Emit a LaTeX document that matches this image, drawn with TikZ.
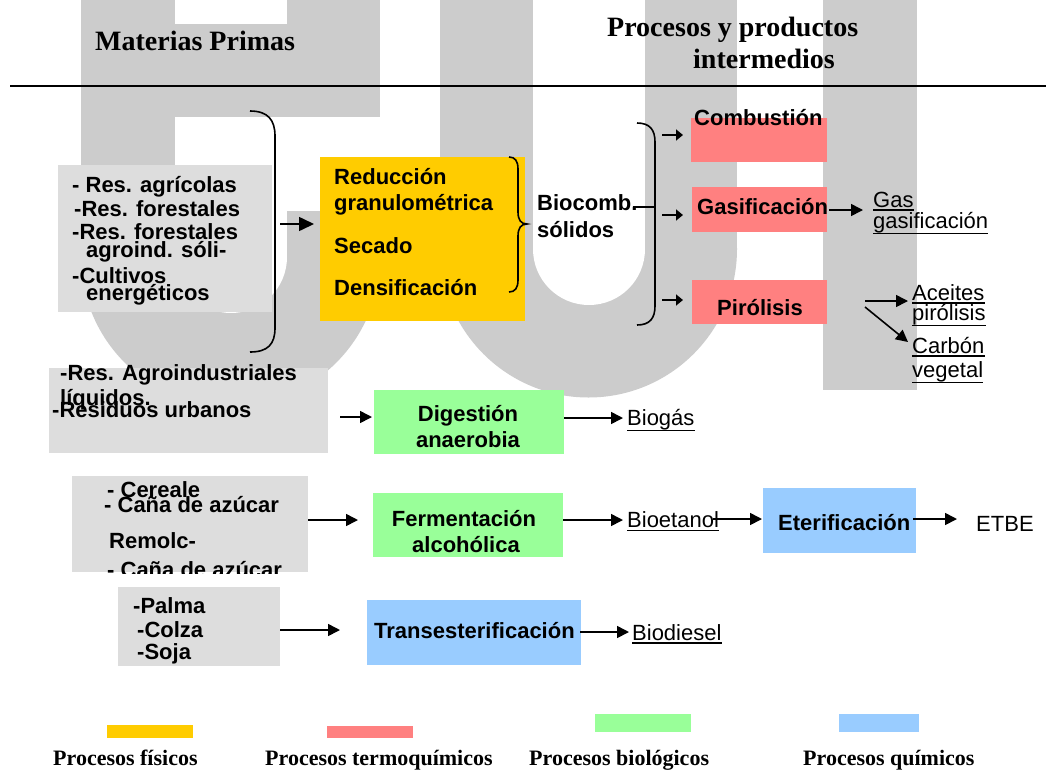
\documentclass[tikz,border=0pt]{standalone}
\usepackage{fontspec}
\setmainfont{Liberation Serif}
\newfontfamily\arialf{Liberation Sans}
\usetikzlibrary{arrows.meta}
\definecolor{wm}{HTML}{CCCCCC}
\definecolor{boxgray}{HTML}{DDDDDD}
\definecolor{fisc}{HTML}{FFCC00}
\definecolor{termc}{HTML}{FF8080}
\definecolor{bioc}{HTML}{99FF99}
\definecolor{quic}{HTML}{99CCFF}
\begin{document}
\begin{tikzpicture}[x=1pt,y=-1pt,
  bx/.style={inner sep=0pt,outer sep=0pt,anchor=north west,draw=none},
  tb/.style={inner sep=0pt,anchor=base west,font=\arialf\bfseries\fontsize{22}{24}\selectfont},
  tbc/.style={inner sep=0pt,anchor=base,font=\arialf\bfseries\fontsize{22}{24}\selectfont},
  tr/.style={inner sep=0pt,anchor=base west,font=\arialf\fontsize{22}{24}\selectfont},
  hd/.style={inner sep=0pt,anchor=base west,font=\bfseries\fontsize{28}{30}\selectfont},
  lg/.style={inner sep=0pt,anchor=base west,font=\bfseries\fontsize{22}{24}\selectfont},
  arr/.style={line width=1.6pt,-{Triangle[length=12pt,width=12pt]}},
  barr/.style={line width=1.6pt,-{Triangle[length=15pt,width=14pt]}},
  sarr/.style={line width=1.6pt,-{Triangle[length=7pt,width=11pt]}},
  brk/.style={line width=1.6pt},
  ul/.style={line width=1.3pt}]
\useasboundingbox (0,0) rectangle (1046,769);
\fill[white] (0,0) rectangle (1046,769);
% watermark
\fill[wm] (81,0) rectangle (380,257);
\fill[wm] (230.5,257) circle[radius=149.5pt];
\fill[white] (175,0) rectangle (287,24);
\fill[white] (175,117) rectangle (380,211);
\fill[white] (175,211) rectangle (287,257);
\fill[white] (231,257) circle[radius=56pt];
\fill[wm] (440,0) rectangle (737,249);
\fill[wm] (588.5,249) circle[radius=148.5pt];
\fill[white] (533,0) rectangle (645,249);
\fill[white] (589,249) circle[radius=56pt];
\fill[wm] (823,0) rectangle (917,390);
% header
\node[hd] (mp) at (95,50) {Materias Primas};
\node[hd] (pp1) at (607,36) {Procesos y productos};
\node[hd] (pp2) at (693,68) {intermedios};
\coordinate (hl1) at (10,86);
\coordinate (hl2) at (1046,86);
\draw[line width=1.8pt] (hl1) -- (hl2);
% boxes
\node[bx,fill=boxgray,minimum width=214pt,minimum height=147pt] (g1) at (58,165) {};
\node[bx,fill=fisc,minimum width=205pt,minimum height=164pt] (yel) at (320,157) {};
\node[bx,fill=termc,minimum width=136pt,minimum height=44pt] (comb) at (691,118) {};
\node[bx,fill=termc,minimum width=135pt,minimum height=45pt] (gasi) at (692,187) {};
\node[bx,fill=termc,minimum width=135pt,minimum height=44pt] (piro) at (692,280) {};
\node[bx,fill=boxgray,minimum width=279pt,minimum height=85pt] (g2) at (49,368) {};
\node[bx,fill=bioc,minimum width=190pt,minimum height=64pt] (dig) at (374,390) {};
\node[bx,fill=boxgray,minimum width=236pt,minimum height=96pt] (g3) at (72,476) {};
\node[bx,fill=bioc,minimum width=190pt,minimum height=64pt] (fer) at (373,493) {};
\node[bx,fill=quic,minimum width=153pt,minimum height=65pt] (ete) at (763,488) {};
\node[bx,fill=boxgray,minimum width=162pt,minimum height=79pt] (g4) at (118,587) {};
\node[bx,fill=quic,minimum width=214pt,minimum height=65pt] (tra) at (367,600) {};
% box 1 texts
\node[tb] (r1) at (72,192) {- Res. agrícolas};
\node[tb] (r2) at (74,216) {-Res. forestales};
\node[tb] (r3) at (72,239) {-Res. forestales};
\node[tb] (r4) at (86,257) {agroind. sóli-};
\node[tb] (r5) at (72,283) {-Cultivos};
\node[tb] (r6) at (86,300) {energéticos};
% yellow texts
\node[tb] (y1) at (334,184) {Reducción};
\node[tb] (y2) at (334,210) {granulométrica};
\node[tb] (y3) at (334,253) {Secado};
\node[tb] (y4) at (334,295) {Densificación};
\node[tb] (bc1) at (537,210) {Biocomb.};
\node[tb] (bc2) at (537,237) {sólidos};
% pink texts
\node[tb] (tcomb) at (694,125) {Combustión};
\node[tb] (tgasi) at (697,214) {Gasificación};
\node[tb] (tpiro) at (717,315) {Pirólisis};
% products
\node[tr] (gas1) at (873,207) {Gas};
\node[tr] (gas2) at (873,228) {gasificación};
\node[tr] (ac1) at (912,300) {Aceites};
\node[tr] (ac2) at (912,320) {pirólisis};
\node[tr] (cv1) at (912,353) {Carbón};
\node[tr] (cv2) at (912,377) {vegetal};
\draw[ul] ([yshift=-3pt]gas1.base west) -- ([yshift=-3pt]gas1.base east);
\draw[ul] ([yshift=-5.5pt]gas2.base west) -- ([yshift=-5.5pt]gas2.base east);
\draw[ul] ([yshift=-3pt]ac1.base west) -- ([yshift=-3pt]ac1.base east);
\draw[ul] ([yshift=-5.5pt]ac2.base west) -- ([yshift=-5.5pt]ac2.base east);
\draw[ul] ([yshift=-3pt]cv1.base west) -- ([yshift=-3pt]cv1.base east);
\draw[ul] ([yshift=-5.5pt]cv2.base west) -- ([yshift=-5.5pt]cv2.base east);
% row 2
\node[tb] (s1) at (60,380) {-Res. Agroindustriales};
\node[tb] (s2) at (60,405) {líquidos.};
\node[tb] (s3) at (52,417) {-Residuos urbanos};
\node[tbc] (d1) at (468,421) {Digestión};
\node[tbc] (d2) at (468,447) {anaerobia};
\node[tr] (biog) at (627,425) {Biogás};
\draw[ul] ([yshift=-5.5pt]biog.base west) -- ([yshift=-5.5pt]biog.base east);
% row 3
\node[tb] (c1) at (107,497) {- Cereale};
\node[tb] (c2) at (104,512) {- Caña de azúcar};
\node[tb] (c3) at (109,548) {Remolc-};
\begin{scope}
\clip (72,476) rectangle (308,573);
\node[tb] (c4) at (107,577) {- Caña de azúcar};
\end{scope}
\node[tbc] (f1) at (464,526) {Fermentación};
\node[tbc] (f2) at (466,552) {alcohólica};
\node[tr] (bioe) at (627,527) {Bioetanol};
\draw[ul] ([yshift=-3.5pt]bioe.base west) -- ([yshift=-3.5pt]bioe.base east);
\node[tb] (tete) at (778,530) {Eterificación};
\node[tr] (etbe) at (976,531) {ETBE};
% row 4
\node[tb] (p1) at (133,613) {-Palma};
\node[tb] (p2) at (137,637) {-Colza};
\node[tb] (p3) at (137,659) {-Soja};
\node[tb] (ttra) at (374,638) {Transesterificación};
\node[tr] (biod) at (632,640) {Biodiesel};
\draw[ul] ([yshift=-3pt]biod.base west) -- ([yshift=-3pt]biod.base east);
% brackets
\draw[brk] (250,111) .. controls (268,111) and (275,120) .. (275,136) -- (275,328) .. controls (275,344) and (268,352) .. (250,352);
\draw[brk] (509,157) .. controls (515,157) and (518,161) .. (518,169) -- (518,212) .. controls (518,220) and (521,224) .. (527,224) .. controls (521,224) and (518,228) .. (518,236) -- (518,280) .. controls (518,288) and (515,292) .. (509,292);
\draw[brk] (637,123) .. controls (650,123) and (655,130) .. (655,142) -- (655,306) .. controls (655,318) and (650,325) .. (637,325);
\coordinate (bt1) at (633,207);
\coordinate (bt2) at (655,207);
\draw[brk] (bt1) -- (bt2);
% arrows
\coordinate (a1s) at (280,224); \coordinate (a1e) at (314,224);
\draw[barr] (a1s) -- (a1e);
\coordinate (b1s) at (662,135); \coordinate (b1e) at (683,135);
\coordinate (b2s) at (662,215); \coordinate (b2e) at (683,215);
\coordinate (b3s) at (662,300); \coordinate (b3e) at (683,300);
\draw[sarr] (b1s) -- (b1e);
\draw[sarr] (b2s) -- (b2e);
\draw[sarr] (b3s) -- (b3e);
\coordinate (gs) at (829,210); \coordinate (ge) at (863,210);
\draw[arr] (gs) -- (ge);
\coordinate (ps1) at (865,301); \coordinate (pe1) at (908,301);
\coordinate (ps2) at (865,307); \coordinate (pe2) at (908,342);
\draw[arr] (ps1) -- (pe1);
\draw[arr] (ps2) -- (pe2);
\coordinate (r2s) at (340,417); \coordinate (r2e) at (372,417);
\draw[arr] (r2s) -- (r2e);
\coordinate (dbs) at (564,418); \coordinate (dbe) at (623,418);
\draw[arr] (dbs) -- (dbe);
\coordinate (r3s) at (308,520); \coordinate (r3e) at (358,520);
\draw[arr] (r3s) -- (r3e);
\coordinate (fbs) at (563,520); \coordinate (fbe) at (623,520);
\draw[arr] (fbs) -- (fbe);
\coordinate (bes) at (713,519); \coordinate (bee) at (762,519);
\draw[arr] (bes) -- (bee);
\coordinate (ees) at (913,519); \coordinate (eee) at (957,519);
\draw[arr] (ees) -- (eee);
\coordinate (r4s) at (280,630); \coordinate (r4e) at (340,630);
\draw[arr] (r4s) -- (r4e);
\coordinate (tbs) at (580,632); \coordinate (tbe) at (629,632);
\draw[arr] (tbs) -- (tbe);
% legend
\node[bx,fill=fisc,minimum width=86pt,minimum height=13pt] (lk1) at (107,725) {};
\node[bx,fill=termc,minimum width=86pt,minimum height=12pt] (lk2) at (327,726) {};
\node[bx,fill=bioc,minimum width=96pt,minimum height=18pt] (lk3) at (595,714) {};
\node[bx,fill=quic,minimum width=80pt,minimum height=18pt] (lk4) at (839,714) {};
\node[lg] (lt1) at (53,765) {Procesos físicos};
\node[lg] (lt2) at (265,765) {Procesos termoquímicos};
\node[lg] (lt3) at (529,765) {Procesos biológicos};
\node[lg] (lt4) at (803,765) {Procesos químicos};
\end{tikzpicture}
\end{document}
